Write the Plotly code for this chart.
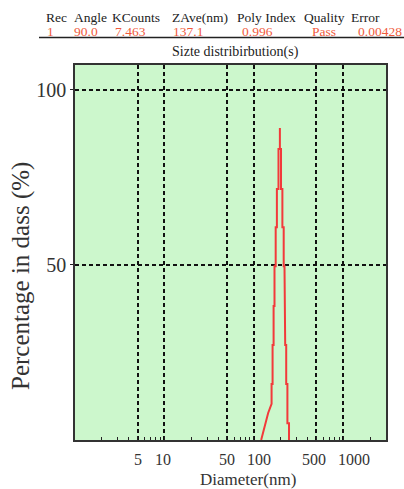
import math
import plotly.graph_objects as go

# ---- data ----
header_labels = ["Rec", "Angle", "KCounts", "ZAve(nm)", "Poly Index", "Quality", "Error"]
header_values = ["1", "90.0", "7.463", "137.1", "0.996", "Pass", "0.00428"]
subtitle = "Sizte distribirbution(s)"

diameter = [120.6, 144.4, 157.7, 157.7, 161.8, 161.8, 166.1, 166.1, 170.0, 170.0,
            175.3, 175.3, 180.8, 180.8, 188.4, 188.4, 195.3, 195.3,
            195.3, 201.0, 201.0, 208.3, 208.3, 215.4, 215.4, 219.9, 219.9,
            223.9, 223.9, 229.8, 229.8, 237.0, 237.0, 247.0, 247.0]
percent = [0.0, 7.7, 10.3, 16.0, 16.0, 27.1, 27.1, 38.2, 38.2, 49.6,
           49.6, 60.7, 60.7, 71.6, 71.6, 83.0, 83.0, 89.0,
           83.0, 83.0, 71.6, 71.6, 60.7, 60.7, 49.6, 49.6, 38.2,
           38.2, 27.1, 27.1, 16.0, 16.0, 4.8, 4.8, 0.0]

x_tickvals = [5, 10, 50, 100, 500, 1000]
x_ticktext = ["5", "10", "50", "100", "500", "1000"]
y_tickvals = [50, 100]
y_ticktext = ["50", "100"]

# ---- layout helpers (pixel -> paper) ----
W, H = 404, 489
L, R, T, B = 75, 18, 65, 49
PW, PH = W - L - R, H - T - B

def px(p):
    return (p - L) / PW

def py(p):
    return (H - B - p) / PH

FONT = "Liberation Serif"

fig = go.Figure()
fig.add_trace(go.Scatter(x=diameter, y=percent, mode="lines",
                         line=dict(color="#f23a3a", width=2),
                         hoverinfo="skip", showlegend=False))

minor_vals = []
for dec in [1, 10, 100, 1000]:
    for m in [2, 3, 4, 6, 7, 8, 9]:
        v = m * dec
        if v <= 3000:
            minor_vals.append(v)

fig.update_layout(
    width=W, height=H,
    margin=dict(l=L, r=R, t=T, b=B),
    paper_bgcolor="white",
    plot_bgcolor="#ccf7cc",
    font=dict(family=FONT, color="#333"),
    xaxis=dict(
        type="log", range=[0, 3.477],
        tickvals=x_tickvals, ticktext=x_ticktext, showticklabels=False,
        showgrid=True, gridcolor="#111", gridwidth=1.5, griddash="4px,3px",
        ticks="inside", ticklen=4, tickcolor="#222",
        showline=True, linecolor="#333", linewidth=1.5, mirror=True,
        zeroline=False,
        minor=dict(tickvals=minor_vals, ticks="inside", ticklen=3,
                   tickcolor="#222", showgrid=False),
    ),
    yaxis=dict(
        range=[0, 107],
        tickvals=y_tickvals, ticktext=y_ticktext,
        showgrid=True, gridcolor="#111", gridwidth=1.5, griddash="4px,3px",
        ticks="outside", ticklen=3, tickcolor="#222",
        showline=True, linecolor="#333", linewidth=1.5, mirror=True,
        zeroline=False,
        tickfont=dict(family=FONT, size=20, color="#333"),
    ),
)

ann = []
# x tick labels (drawn as annotations at the axis' tick values)
label_shift = [0, -1, 0, 5, -2, 11]
for v, t, s in zip(x_tickvals, x_ticktext, label_shift):
    ann.append(dict(text=t, x=math.log10(v), xref="x", y=py(459), yref="paper",
                    xanchor="center", yanchor="middle", showarrow=False, xshift=s,
                    font=dict(family=FONT, size=16, color="#333")))

header_x = [44, 72, 110, 170, 235, 302, 349]
value_x = [45, 72, 113, 171, 240, 310, 356]
for lab, xx in zip(header_labels, header_x):
    ann.append(dict(text=lab, x=px(xx), y=py(17), xref="paper", yref="paper",
                    xanchor="left", yanchor="middle", showarrow=False,
                    font=dict(family=FONT, size=13.5, color="#222")))
for val, xx in zip(header_values, value_x):
    ann.append(dict(text=val, x=px(xx), y=py(31), xref="paper", yref="paper",
                    xanchor="left", yanchor="middle", showarrow=False,
                    font=dict(family=FONT, size=13.5, color="#f05a3c")))
ann.append(dict(text=subtitle, x=px(235.5), y=py(52), xref="paper", yref="paper",
                xanchor="center", yanchor="middle", showarrow=False,
                font=dict(family=FONT, size=14, color="#222")))
ann.append(dict(text="Diameter(nm)", x=px(247.5), y=py(479), xref="paper", yref="paper",
                xanchor="center", yanchor="middle", showarrow=False,
                font=dict(family=FONT, size=17, color="#333")))
ann.append(dict(text="Percentage in dass (%)", x=px(21), y=py(276), xref="paper", yref="paper",
                xanchor="center", yanchor="middle", showarrow=False, textangle=-90,
                font=dict(family=FONT, size=25, color="#333")))
fig.update_layout(annotations=ann)

fig.add_shape(type="line", xref="paper", yref="paper",
              x0=px(39), x1=px(404), y0=py(37.5), y1=py(37.5),
              line=dict(color="#222", width=1.5))

fig.write_html("out.html", config={"displayModeBar": False},
               post_script="document.body.style.margin='0';document.body.style.padding='0';document.body.style.overflow='hidden';")
